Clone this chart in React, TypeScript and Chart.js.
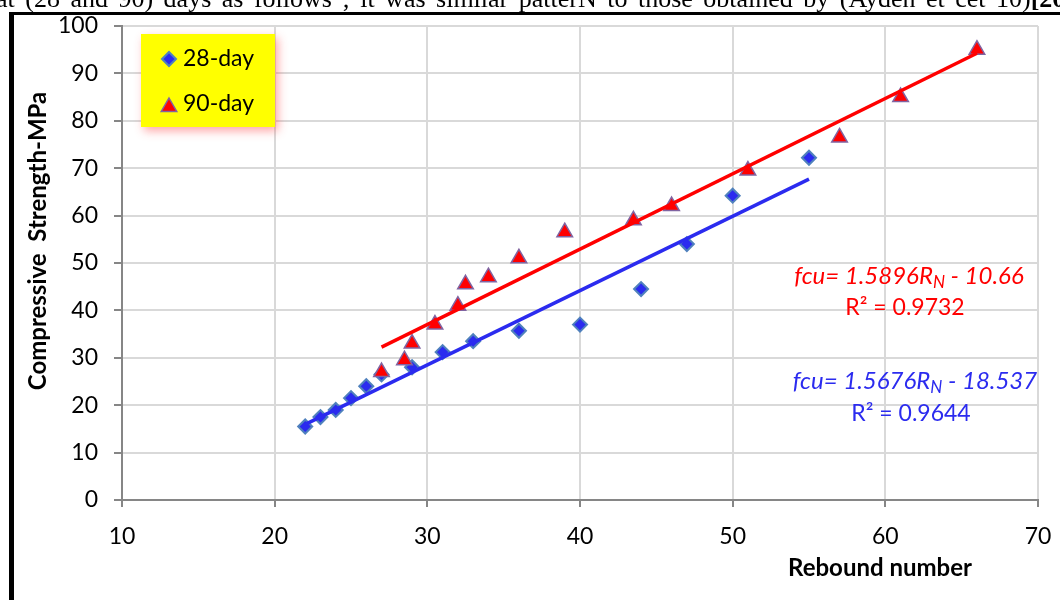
import React, { useEffect, useRef } from "react";
import { Chart, registerables } from "chart.js";

Chart.register(...registerables);

// ---- Data ----
const rebound28 = [22, 23, 24, 25, 26, 27, 29, 31, 33, 36, 40, 44, 47, 50, 55];
const strength28 = [15.5, 17.5, 19, 21.5, 24, 26.5, 28, 31.2, 33.5, 35.7, 37, 44.5, 54, 64.2, 72.2];
const rebound90 = [27, 28.5, 29, 30.5, 32, 32.5, 34, 36, 39, 43.5, 46, 51, 57, 61, 66];
const strength90 = [27, 29.5, 33, 37, 41, 45.5, 47, 51, 56.5, 59, 62, 69.5, 76.5, 85, 95];
const fit28 = { slope: 1.5676, intercept: -18.537, r2: 0.9644 };
const fit90 = { slope: 1.5896, intercept: -10.66, r2: 0.9732 };
const seriesNames = ["28-day", "90-day"];
const xTickValues = [10, 20, 30, 40, 50, 60, 70];
const yTickValues = [0, 10, 20, 30, 40, 50, 60, 70, 80, 90, 100];
const xTitle = "Rebound number";
const yTitle = "Compressive  Strength-MPa";
const topText =
  "at (28 and 90) days  as follows ; it was  similar patterN to those obtained by (Ayden et cet 10)";

const BLUE = "#2b2bef";
const BLUE_EDGE = "#4f81bd";
const RED = "#ff0000";
const RED_EDGE = "#8064a2";
const FONT = "Lato";

function trend(xs: number[], fit: { slope: number; intercept: number }) {
  const lo = Math.min(...xs);
  const hi = Math.max(...xs);
  return [lo, hi].map((x) => ({ x, y: fit.slope * x + fit.intercept }));
}

function drawDiamond(ctx: CanvasRenderingContext2D, x: number, y: number, r: number) {
  ctx.beginPath();
  ctx.moveTo(x, y - r);
  ctx.lineTo(x + r, y);
  ctx.lineTo(x, y + r);
  ctx.lineTo(x - r, y);
  ctx.closePath();
  ctx.fillStyle = BLUE;
  ctx.fill();
  ctx.strokeStyle = BLUE_EDGE;
  ctx.lineWidth = 2;
  ctx.stroke();
}

function drawTriangle(ctx: CanvasRenderingContext2D, x: number, y: number, r: number) {
  ctx.beginPath();
  ctx.moveTo(x, y - r);
  ctx.lineTo(x + r * 0.866, y + r * 0.5);
  ctx.lineTo(x - r * 0.866, y + r * 0.5);
  ctx.closePath();
  ctx.fillStyle = RED;
  ctx.fill();
  ctx.strokeStyle = RED_EDGE;
  ctx.lineWidth = 1.5;
  ctx.stroke();
}

function drawEquation(
  ctx: CanvasRenderingContext2D,
  cx: number,
  cy: number,
  fit: { slope: number; intercept: number; r2: number },
  color: string,
  gap: number
) {
  const main = `italic 24px ${FONT}`;
  const sub = `italic 17px ${FONT}`;
  const parts = [
    { t: `fcu= ${fit.slope}R`, f: main, dy: 0 },
    { t: "N", f: sub, dy: 7 },
    { t: ` - ${Math.abs(fit.intercept)}`, f: main, dy: 0 },
  ];
  ctx.save();
  ctx.fillStyle = color;
  ctx.textBaseline = "middle";
  ctx.textAlign = "left";
  let total = 0;
  const widths = parts.map((p) => {
    ctx.font = p.f;
    const w = ctx.measureText(p.t).width;
    total += w;
    return w;
  });
  let x = cx - total / 2;
  parts.forEach((p, i) => {
    ctx.font = p.f;
    ctx.fillText(p.t, x, cy + p.dy);
    x += widths[i];
  });
  ctx.font = `23px ${FONT}`;
  ctx.textAlign = "center";
  ctx.fillText(`R² = ${fit.r2}`, cx - 4, cy + gap);
  ctx.restore();
}

const overlayPlugin = {
  id: "overlay",
  afterDraw(chart: any) {
    const ctx: CanvasRenderingContext2D = chart.ctx;
    // axis titles
    ctx.save();
    ctx.fillStyle = "#000";
    ctx.font = `bold 24px ${FONT}`;
    ctx.textAlign = "center";
    ctx.textBaseline = "middle";
    ctx.fillText(xTitle, 880, 568);
    ctx.translate(38, 241);
    ctx.rotate(-Math.PI / 2);
    ctx.fillText(yTitle, 0, 0);
    ctx.restore();

    // legend box
    ctx.save();
    ctx.shadowColor = "rgba(255,60,60,0.45)";
    ctx.shadowBlur = 9;
    ctx.shadowOffsetX = 3;
    ctx.shadowOffsetY = 4;
    ctx.fillStyle = "#ffff00";
    ctx.fillRect(141, 34, 134, 93);
    ctx.restore();

    ctx.save();
    drawDiamond(ctx, 169, 59, 7);
    drawTriangle(ctx, 169, 107, 9);
    ctx.fillStyle = "#000";
    ctx.font = `23px ${FONT}`;
    ctx.textAlign = "left";
    ctx.textBaseline = "middle";
    ctx.fillText(seriesNames[0], 183, 59);
    ctx.fillText(seriesNames[1], 183, 104);
    ctx.restore();

    // equations
    drawEquation(ctx, 909, 276, fit90, RED, 32);
    drawEquation(ctx, 915, 381, fit28, BLUE, 33);
  },
};

export default function App() {
  const canvasRef = useRef<HTMLCanvasElement | null>(null);

  useEffect(() => {
    if (!canvasRef.current) return;
    const chart = new Chart(canvasRef.current, {
      type: "scatter",
      data: {
        datasets: [
          {
            label: "trend28",
            type: "line",
            data: trend(rebound28, fit28),
            borderColor: BLUE,
            borderWidth: 3.5,
            pointRadius: 0,
            fill: false,
          },
          {
            label: "trend90",
            type: "line",
            data: trend(rebound90, fit90),
            borderColor: RED,
            borderWidth: 3.5,
            pointRadius: 0,
            fill: false,
          },
          {
            label: seriesNames[1],
            data: rebound90.map((x, i) => ({ x, y: strength90[i] })),
            pointStyle: "triangle",
            pointRadius: 9,
            backgroundColor: RED,
            borderColor: RED_EDGE,
            borderWidth: 1.5,
          },
          {
            label: seriesNames[0],
            data: rebound28.map((x, i) => ({ x, y: strength28[i] })),
            pointStyle: "rectRot",
            pointRadius: 7,
            backgroundColor: BLUE,
            borderColor: BLUE_EDGE,
            borderWidth: 2,
          },
        ],
      },
      options: {
        animation: false,
        responsive: false,
        layout: { padding: { left: 0, top: 26, right: 22, bottom: 0 } },
        plugins: { legend: { display: false }, tooltip: { enabled: false } },
        scales: {
          x: {
            type: "linear",
            min: xTickValues[0],
            max: xTickValues[xTickValues.length - 1],
            afterBuildTicks: (s: any) => {
              s.ticks = xTickValues.map((v) => ({ value: v }));
            },
            afterFit: (s: any) => {
              s.height = 100;
              s.paddingLeft = 0;
              s.paddingRight = 0;
            },
            ticks: { font: { family: FONT, size: 23 }, color: "#000", padding: 16 },
            grid: { color: "#d9d9d9", lineWidth: 2, tickColor: "#868686", tickLength: 7 },
            border: { color: "#868686", width: 2 },
          },
          y: {
            type: "linear",
            min: yTickValues[0],
            max: yTickValues[yTickValues.length - 1],
            afterBuildTicks: (s: any) => {
              s.ticks = yTickValues.map((v) => ({ value: v }));
            },
            afterFit: (s: any) => {
              s.width = 122;
              s.paddingTop = 0;
              s.paddingBottom = 0;
            },
            ticks: { font: { family: FONT, size: 23 }, color: "#000", padding: 16 },
            grid: { color: "#d9d9d9", lineWidth: 2, tickColor: "#868686", tickLength: 8 },
            border: { color: "#868686", width: 2 },
          },
        },
      },
      plugins: [overlayPlugin],
    } as any);
    return () => chart.destroy();
  }, []);

  return (
    <div
      style={{
        position: "fixed",
        left: 0,
        top: 0,
        width: 1060,
        height: 600,
        overflow: "hidden",
        background: "#fff",
      }}
    >
      <canvas
        ref={canvasRef}
        width={1060}
        height={600}
        style={{ position: "absolute", left: 0, top: 0, width: 1060, height: 600 }}
      />
      <div
        style={{
          position: "absolute",
          left: -4,
          top: -14,
          whiteSpace: "nowrap",
          fontFamily: "'Liberation Serif', serif",
          fontSize: 26,
          lineHeight: "26px",
          wordSpacing: 4,
          color: "#000",
        }}
      >
        {topText}
        <b>[20]</b>
      </div>
      <div style={{ position: "absolute", left: 9, top: 12, width: 1051, height: 3, background: "#000" }} />
      <div style={{ position: "absolute", left: 9, top: 12, width: 5, height: 588, background: "#000" }} />
    </div>
  );
}
